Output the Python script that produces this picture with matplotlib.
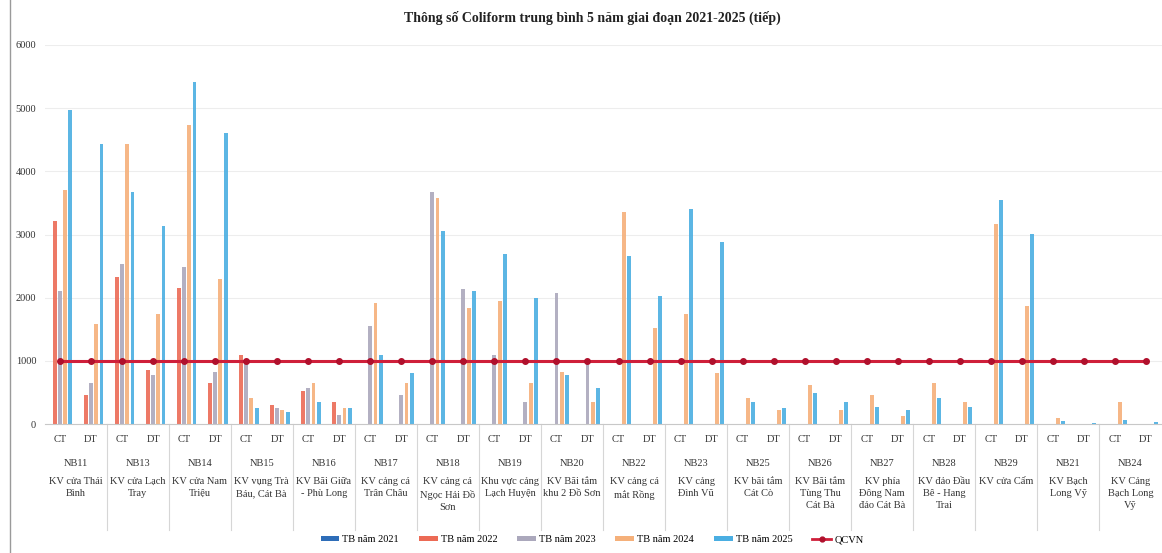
import matplotlib
matplotlib.use("Agg")
import matplotlib.pyplot as plt
from matplotlib.lines import Line2D
from matplotlib.patches import Patch
import numpy as np

plt.rcParams['font.family'] = ['Liberation Serif', 'DejaVu Serif']

# Stations, their areas and the two sampling points (CT / DT)
stations = ["NB11", "NB13", "NB14", "NB15", "NB16", "NB17", "NB18", "NB19", "NB20",
            "NB22", "NB23", "NB25", "NB26", "NB27", "NB28", "NB29", "NB21", "NB24"]
areas = ["KV cửa Thái\nBình", "KV cửa Lạch\nTray", "KV cửa Nam\nTriệu",
         "KV vụng Trà\nBáu, Cát Bà", "KV Bãi Giữa\n- Phù Long", "KV cảng cá\nTrân Châu",
         "KV cảng cá\nNgọc Hải Đồ\nSơn", "Khu vực cảng\nLạch Huyện", "KV Bãi tắm\nkhu 2 Đồ Sơn",
         "KV cảng cá\nmắt Rồng", "KV cảng\nĐình Vũ", "KV bãi tắm\nCát Cò",
         "KV Bãi tắm\nTùng Thu\nCát Bà", "KV phía\nĐông Nam\nđảo Cát Bà",
         "KV đảo Đầu\nBê - Hang\nTrai", "KV cửa Cấm", "KV Bạch\nLong Vỹ",
         "KV Cảng\nBạch Long\nVỹ"]
points = ["CT", "DT"]

# Average Coliform values, one entry per station/point (CT, DT alternating)
tb2021 = [0, 0, 0, 0, 0, 0, 0, 0, 0, 0, 0, 0, 0, 0, 0, 0, 0, 0,
          0, 0, 0, 0, 0, 0, 0, 0, 0, 0, 0, 0, 0, 0, 0, 0, 0, 0]
tb2022 = [3220, 460, 2320, 860, 2160, 650, 1100, 300, 515, 355, 0, 0, 0, 0, 0, 0, 0, 0,
          0, 0, 0, 0, 0, 0, 0, 0, 0, 0, 0, 0, 0, 0, 0, 0, 0, 0]
tb2023 = [2100, 650, 2530, 780, 2480, 830, 980, 250, 570, 145, 1550, 460, 3670, 2130,
          1100, 355, 2080, 950, 0, 0, 0, 0, 0, 0, 0, 0, 0, 0, 0, 0, 0, 0, 0, 0, 0, 0]
tb2024 = [3700, 1580, 4440, 1735, 4730, 2290, 410, 220, 650, 250, 1920, 650, 3570, 1840,
          1950, 650, 830, 355, 3350, 1520, 1735, 810, 410, 220, 620, 220, 460, 120,
          650, 355, 3170, 1870, 90, 0, 355, 0]
tb2025 = [4970, 4440, 3670, 3140, 5420, 4600, 250, 195, 355, 250, 1100, 810, 3060, 2110,
          2690, 2000, 780, 570, 2660, 2030, 3410, 2880, 355, 250, 490, 355, 275, 220,
          410, 275, 3540, 3010, 40, 15, 65, 30]
qcvn_limit = 1000

series = [("TB năm 2021", tb2021, "#2E6DB8"),
          ("TB năm 2022", tb2022, "#EC6A55"),
          ("TB năm 2023", tb2023, "#ABA8BC"),
          ("TB năm 2024", tb2024, "#F5B07A"),
          ("TB năm 2025", tb2025, "#4AAEE2")]

W, H = 1162, 553
fig = plt.figure(figsize=(W / 100, H / 100), dpi=100)
fig.patch.set_facecolor("white")

# axes placement in pixels
x0, x1 = 44.5, 1161.5
y_top, y_bot = 45, 424
ax = fig.add_axes([x0 / W, 1 - y_bot / H, (x1 - x0) / W, (y_bot - y_top) / H])

n = len(stations) * len(points)
x = np.arange(n)
slot = 0.168
bw = 0.125
for k, (name, vals, col) in enumerate(series):
    ax.bar(x + (k - 2) * slot, vals, width=bw, color=col, alpha=0.9, zorder=2)

ax.plot(x, [qcvn_limit] * n, color="#CF1F3A", lw=2.2, marker="o", markersize=4,
        markerfacecolor="#B0102C", markeredgecolor="#B0102C", zorder=3)

ax.set_xlim(-0.5, n - 0.5)
ax.set_ylim(0, 6000)
ax.set_yticks(range(0, 6001, 1000))
ax.set_yticklabels([str(v) for v in range(0, 6001, 1000)], fontsize=7.5, color="#333333")
ax.tick_params(axis="y", length=0, pad=6)
ax.set_xticks([])
ax.yaxis.grid(True, color="#ededed", lw=0.8)
ax.set_axisbelow(True)
for s in ["left", "right", "top"]:
    ax.spines[s].set_visible(False)
ax.spines["bottom"].set_color("#c8c8c8")

ax_h = y_bot - y_top


def frac(ypix):
    return (y_bot - ypix) / ax_h


trans = ax.get_xaxis_transform()
for i in range(n):
    ax.text(i, frac(440), points[i % 2], transform=trans, ha="center", va="center",
            fontsize=7.5, color="#333333")
for j, (st, ar) in enumerate(zip(stations, areas)):
    xc = 2 * j + 0.5
    ax.text(xc, frac(464), st, transform=trans, ha="center", va="center",
            fontsize=7.5, color="#333333")
    ax.text(xc, frac(477), ar, transform=trans, ha="center", va="top",
            fontsize=7.5, color="#333333", linespacing=1.45)
    if j > 0:
        ax.plot([2 * j - 0.5] * 2, [0, frac(530)], transform=trans, color="#d6d6d6",
                lw=0.8, clip_on=False)

fig.text(592 / W, 1 - 18 / H, "Thông số Coliform trung bình 5 năm giai đoạn 2021-2025 (tiếp)",
         ha="center", va="center", fontsize=10, fontweight="bold", color="#222222")

handles = [Patch(facecolor=c, edgecolor="none", label=nm) for nm, _, c in series]
handles.append(Line2D([0], [0], color="#CF1F3A", lw=2, marker="o", markersize=3.5,
                      markerfacecolor="#B0102C", markeredgecolor="#B0102C", label="QCVN"))
fig.legend(handles=handles, loc="center", bbox_to_anchor=(592 / W, 1 - 540 / H), ncol=6,
           frameon=False, fontsize=7.5, handlelength=1.8, handleheight=0.35,
           columnspacing=1.9, handletextpad=0.3)

fig.add_artist(Line2D([10 / W, 10 / W], [0, 1], color="#9a9a9a", lw=1))

fig.savefig("out.png", dpi=100)
